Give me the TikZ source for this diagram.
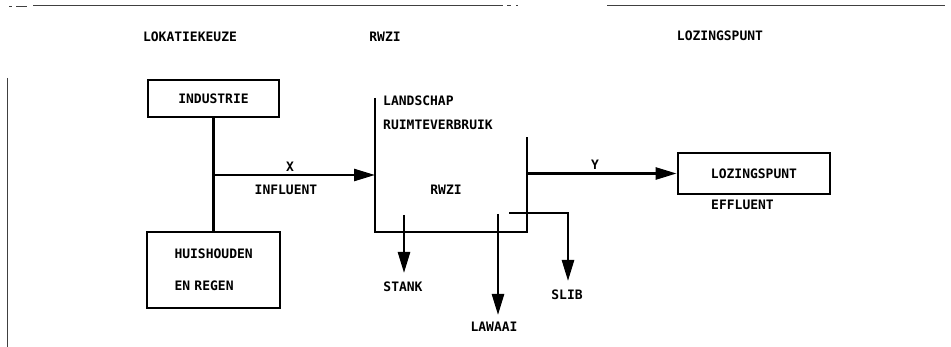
\documentclass[tikz,border=0pt]{standalone}
\usepackage{fontspec}
\setmainfont{DejaVu Sans Mono}
\usetikzlibrary{arrows.meta}
\begin{document}
\begin{tikzpicture}[x=1pt,y=-1pt, font=\fontsize{13}{15}\selectfont\bfseries,
  box/.style={draw, line width=2.8pt, inner sep=0pt},
  wire/.style={line width=2.6pt},
  arr/.style={wire, -{Triangle[length=21pt,width=12pt]}},
  lbl/.style={inner sep=0pt},
  frame/.style={line width=1pt, black!75}]
\useasboundingbox (0,0) rectangle (951,347);
% frame fragments
\draw[frame] (33,6) -- (503,6);
\draw[frame] (507,6) -- (511,6) (516,6) -- (518,6);
\draw[frame] (9,7) -- (12,7) (16,7) -- (27,7);
\draw[frame] (607,6) -- (945,6);
\draw[frame] (7.5,78) -- (7.5,347);
% titles
\node[lbl] (t1) at (190,37) {LOKATIEKEUZE};
\node[lbl] (t2) at (385,37) {RWZI};
\node[lbl] (t3) at (720,36) {LOZINGSPUNT};
% boxes
\node[box, minimum width=131pt, minimum height=37pt] (ind) at (213.5,98.5) {INDUSTRIE};
\node[box, minimum width=133pt, minimum height=76pt, align=left, text width=78pt,
      font=\fontsize{13}{32}\selectfont\bfseries] (hh) at (213.5,270) {HUISHOUDEN\\EN REGEN};
\node[box, minimum width=152pt, minimum height=41pt] (loz) at (754,173.5) {LOZINGSPUNT};
% coordinates
\coordinate (j) at (213.5,175);
\coordinate (rtl) at (375,98);
\coordinate (rbl) at (375,232);
\coordinate (rbr) at (527,232);
\coordinate (rtr) at (527,137);
\coordinate (rin) at (375,175);
\coordinate (yout) at (527,173.5);
\coordinate (s0) at (404,215);
\coordinate (stip) at (404,273);
\coordinate (l0) at (498,214);
\coordinate (ltip) at (498,315);
\coordinate (sl0) at (509,213);
\coordinate (slk) at (568,213);
\coordinate (sltip) at (568,281);
% connectors
\draw[wire] (ind.south) -- (hh.north);
\draw[arr] (j) -- (rin);
\draw[wire, line join=miter] (rtl) -- (rbl) -- (rbr) -- (rtr);
\draw[arr] (yout) -- (loz.west);
\draw[arr] (s0) -- (stip);
\draw[arr] (l0) -- (ltip);
\draw[arr, line join=miter] (sl0) -- (slk) -- (sltip);
% labels
\node[lbl] (x) at (290,167) {X};
\node[lbl] (infl) at (286,190) {INFLUENT};
\node[lbl] (y) at (595,165) {Y};
\node[lbl, anchor=west] (effl) at (711,205) {EFFLUENT};
\node[lbl, anchor=west] (land) at (383,101) {LANDSCHAP};
\node[lbl, anchor=west] (ruim) at (383,125) {RUIMTEVERBRUIK};
\node[lbl] (rwzi) at (446,190) {RWZI};
\node[lbl] (stank) at (403,287) {STANK};
\node[lbl] (lawaai) at (494,327) {LAWAAI};
\node[lbl] (slib) at (567,295) {SLIB};
\end{tikzpicture}
\end{document}
